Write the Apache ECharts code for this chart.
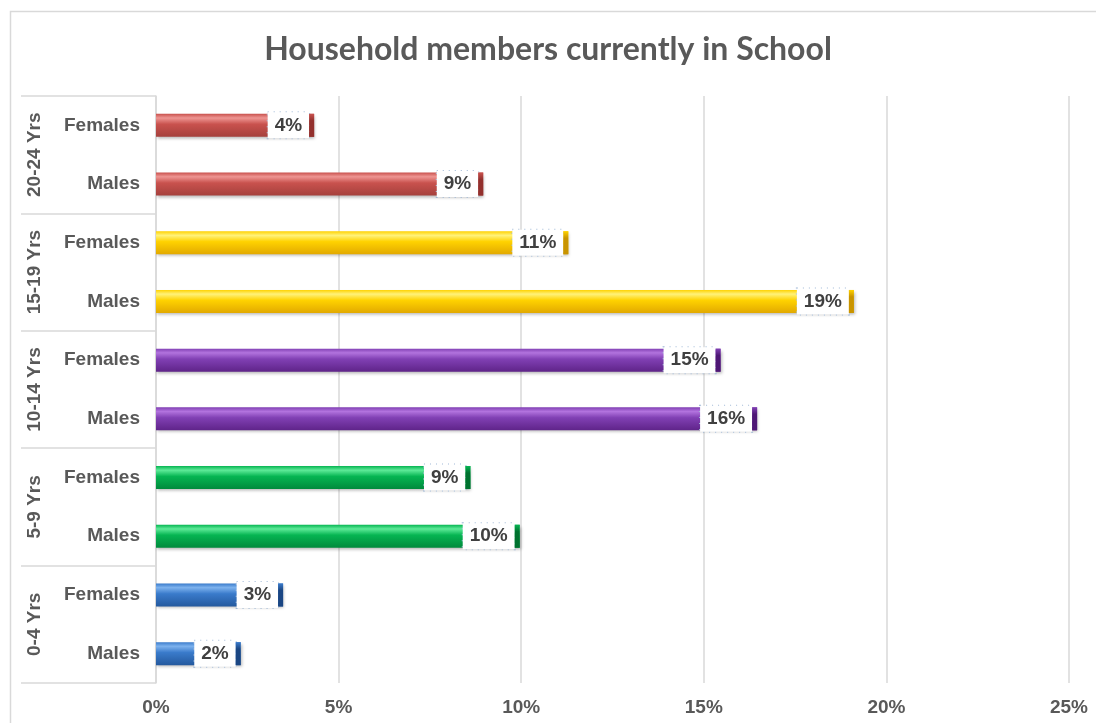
<!DOCTYPE html>
<html>
<head>
<meta charset="utf-8">
<script src="https://cdn.jsdelivr.net/npm/echarts@6/dist/echarts.min.js"></script>
<style>
  html, body { margin: 0; padding: 0; background: #fff; }
  #chart { width: 1096px; height: 723px; }
</style>
</head>
<body>
<div id="chart"></div>
<script>
// Age groups, top to bottom
const ageGroups = ['20-24 Yrs', '15-19 Yrs', '10-14 Yrs', '5-9 Yrs', '0-4 Yrs'];
// Sex labels within each age group
const sexes = ['Females', 'Males'];
// Share in school (%), one pair [Females, Males] per age group
const females = [4.33, 11.29, 15.46, 8.61, 3.48];
const males   = [8.96, 19.11, 16.46, 9.96, 2.32];
// Value axis ticks
const xTicks = [0, 5, 10, 15, 20, 25];

// Bar palette per age group: [highlight, body, shade, end cap]
const palette = [
  ['#EE9592', '#C9524E', '#A5403C', '#93302D'],
  ['#FFF27A', '#FFD200', '#E2A900', '#C99400'],
  ['#B273DE', '#8140B4', '#5F2489', '#4E1775'],
  ['#5EEA98', '#06B552', '#008A3C', '#00722F'],
  ['#7DB2EE', '#3A7BCB', '#24599E', '#1A4683']
];

const categories = [];
const values = [];
const groupIdx = [];
ageGroups.forEach((g, i) => {
  categories.push(sexes[0]); values.push(females[i]); groupIdx.push(i);
  categories.push(sexes[1]); values.push(males[i]);   groupIdx.push(i);
});

function bodyGradient(c) {
  return {
    type: 'linear', x: 0, y: 0, x2: 0, y2: 1,
    colorStops: [
      { offset: 0, color: c[1] },
      { offset: 0.18, color: c[0] },
      { offset: 0.45, color: c[1] },
      { offset: 1, color: c[2] }
    ]
  };
}
function capGradient(c) {
  return {
    type: 'linear', x: 0, y: 0, x2: 0, y2: 1,
    colorStops: [
      { offset: 0, color: c[1] },
      { offset: 0.3, color: c[3] },
      { offset: 1, color: c[3] }
    ]
  };
}

const barData = values.map((v, k) => ({
  value: v,
  itemStyle: { color: bodyGradient(palette[groupIdx[k]]) }
}));
const capData = values.map((v, k) => ({
  value: v,
  itemStyle: { color: capGradient(palette[groupIdx[k]]) }
}));

const axisFont = '"Liberation Sans", Arial, sans-serif';
const chart = echarts.init(document.getElementById('chart'), null, { renderer: 'canvas' });

chart.setOption({
  backgroundColor: '#ffffff',
  animation: false,
  title: {
    text: 'Household members currently in School',
    left: 'center',
    top: 29,
    textStyle: { fontFamily: 'Lato, sans-serif', fontWeight: 'bold', fontSize: 32, color: '#595959' }
  },
  graphic: [{
    type: 'rect',
    shape: { x: 10.5, y: 11.5, width: 1200, height: 800 },
    style: { fill: 'none', stroke: '#d9d9d9', lineWidth: 1.5 },
    silent: true, z: -10
  }],
  grid: { left: 156, right: 27, top: 96, bottom: 40, containLabel: false },
  xAxis: {
    type: 'value',
    min: xTicks[0],
    max: xTicks[xTicks.length - 1],
    interval: 5,
    axisLine: { show: false },
    axisTick: { show: false },
    splitLine: { lineStyle: { color: '#d9d9d9', width: 1.5 } },
    axisLabel: {
      formatter: '{value}%',
      margin: 15,
      fontFamily: axisFont, fontWeight: 'bold', fontSize: 19, color: '#595959'
    }
  },
  yAxis: [{
    type: 'category',
    data: categories,
    inverse: true,
    axisLine: { show: true, lineStyle: { color: '#d9d9d9', width: 1.5 } },
    axisTick: { show: false },
    axisLabel: {
      margin: 16,
      fontFamily: axisFont, fontWeight: 'bold', fontSize: 19, color: '#595959'
    }
  }, {
    type: 'category',
    data: ageGroups,
    inverse: true,
    position: 'left',
    offset: 135,
    axisLine: { show: false },
    axisTick: { show: true, inside: true, length: 135, lineStyle: { color: '#d9d9d9', width: 1.5 } },
    axisLabel: {
      inside: true,
      rotate: 90,
      margin: 4,
      fontFamily: axisFont, fontWeight: 'bold', fontSize: 19, color: '#595959'
    }
  }],
  series: [{
    type: 'bar',
    yAxisIndex: 0,
    barWidth: 23,
    data: barData,
    itemStyle: {
      shadowColor: 'rgba(0,0,0,0.28)',
      shadowBlur: 3,
      shadowOffsetX: 1,
      shadowOffsetY: 2
    },
    label: {
      show: true,
      position: 'insideRight',
      distance: 5,
      formatter: p => Math.round(p.value) + '%',
      fontFamily: axisFont, fontWeight: 'bold', fontSize: 19, color: '#404040',
      lineHeight: 19,
      backgroundColor: '#ffffff',
      borderColor: '#9fb8d6',
      borderWidth: 1,
      borderType: [1, 5],
      padding: [4, 7, 3, 7]
    },
    z: 2
  }, {
    type: 'pictorialBar',
    yAxisIndex: 0,
    symbol: 'rect',
    symbolSize: [5, 23],
    symbolPosition: 'end',
    data: capData,
    z: 3,
    silent: true
  }]
});
</script>
</body>
</html>
